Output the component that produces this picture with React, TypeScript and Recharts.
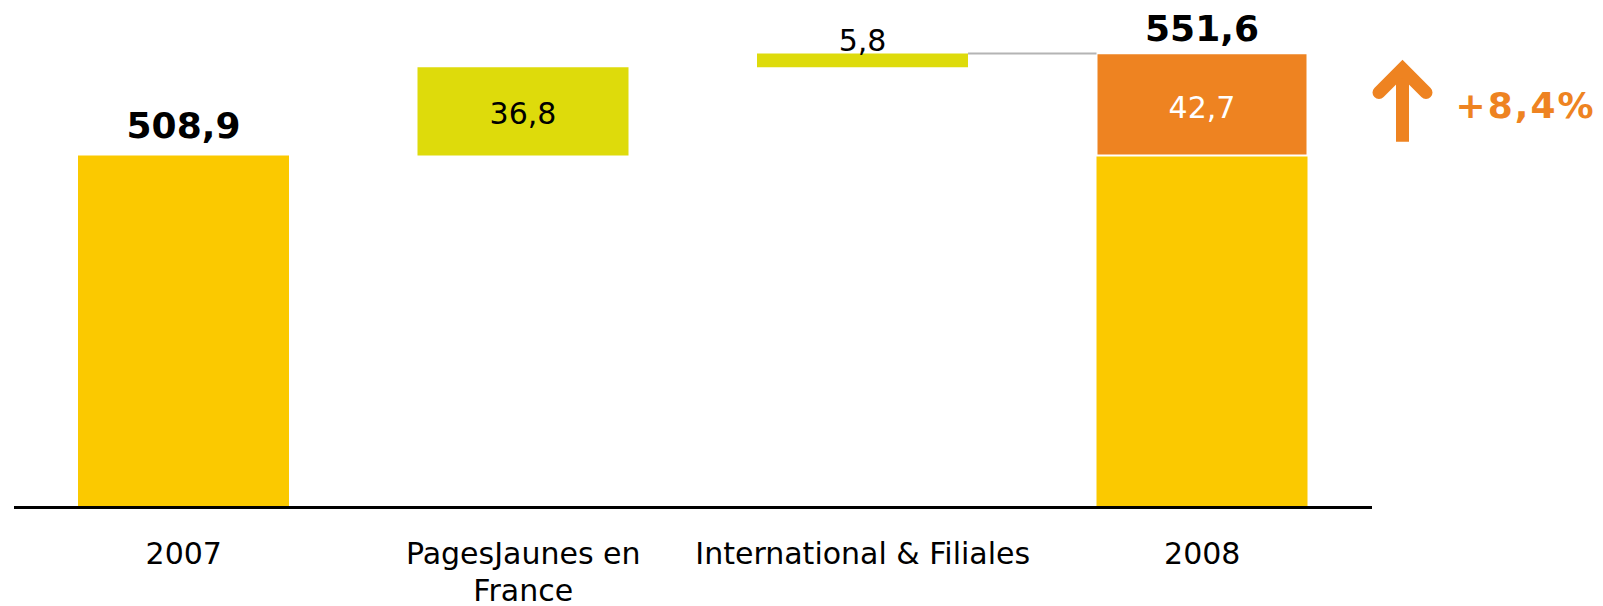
import React from 'react';
import { BarChart, Bar, XAxis, YAxis, LabelList, Cell } from 'recharts';

const categories = ['2007', 'PagesJaunes en France', 'International & Filiales', '2008'];
const tickLines = [['2007'], ['PagesJaunes en', 'France'], ['International & Filiales'], ['2008']];
const openingRevenue = 508.9;
const contributions = [36.8, 5.8];
const closingRevenue = 551.6;
const growthLabel = '+8,4%';

const YELLOW = '#FBC900';
const LIME = '#DEDB0B';
const ORANGE = '#EE8321';
const FONT = '"DejaVu Sans", Verdana, sans-serif';

const CHART_W = 1595;
const CHART_H = 598;
const MARGIN = { top: 10, right: 231, bottom: 0, left: 6 };
const BAR_SIZE = 211;
const BAND = (CHART_W - MARGIN.left - MARGIN.right) / categories.length;

// waterfall rows: invisible base + opening/closing level + change
const rows = (() => {
    const out: any[] = [{ name: categories[0], base: 0, level: openingRevenue, change: 0, total: openingRevenue }];
    let running = openingRevenue;
    contributions.forEach((c, i) => {
        out.push({ name: categories[i + 1], base: running, level: 0, change: c });
        running += c;
    });
    out.push({
        name: categories[categories.length - 1],
        base: 0,
        level: openingRevenue,
        change: Math.round((closingRevenue - openingRevenue) * 10) / 10,
        total: closingRevenue,
    });
    return out;
})();

const fmt = (v: number) => v.toFixed(1).replace('.', ',');

const box = (props: any) => {
    const vb = props.viewBox ?? props;
    return { x: Number(vb.x), y: Number(vb.y), width: Number(vb.width), height: Number(vb.height) };
};

// labels are looked up by category name (LabelList dataKey="name")
const renderOpening = (props: any) => {
    const i = categories.indexOf(props.value);
    if (i !== 0) return null;
    const { x, y, width } = box(props);
    return (
        <text x={x + width / 2} y={y - 18} textAnchor="middle" fontFamily={FONT} fontSize={36} fontWeight="bold" fill="#000">
            {fmt(rows[0].total)}
        </text>
    );
};

const renderChange = (props: any) => {
    const idx = categories.indexOf(props.value);
    const row = rows[idx];
    if (!row || !row.change || idx <= 0) return null;
    const { x, y, width, height } = box(props);
    const cx = x + width / 2;
    if (idx === rows.length - 1) {
        return (
            <g>
                <text x={cx} y={y - 12} textAnchor="middle" fontFamily={FONT} fontSize={36} fontWeight="bold" fill="#000">
                    {fmt(row.total)}
                </text>
                <text x={cx} y={y + height / 2 + 14} textAnchor="middle" fontFamily={FONT} fontSize={30} fill="#fff">
                    {fmt(row.change)}
                </text>
            </g>
        );
    }
    if (height > 40) {
        return (
            <text x={cx} y={y + height / 2 + 13} textAnchor="middle" fontFamily={FONT} fontSize={30} fill="#000">
                {fmt(row.change)}
            </text>
        );
    }
    // small step: label on top plus connector to the closing bar
    const gap = BAND - BAR_SIZE;
    return (
        <g>
            <line x1={x + width} x2={x + width + gap} y1={y} y2={y} stroke="#b4b4b4" strokeWidth={2} />
            <text x={cx} y={y - 2} textAnchor="middle" fontFamily={FONT} fontSize={30} fill="#000">
                {fmt(row.change)}
            </text>
        </g>
    );
};

const CategoryTick = (props: any) => {
    const { x, y, payload } = props;
    const i = categories.indexOf(payload.value);
    const lines = tickLines[i] ?? [payload.value];
    return (
        <text x={x} y={y + 56} textAnchor="middle" fontFamily={FONT} fontSize={30} fill="#000">
            {lines.map((l, k) => (
                <tspan key={k} x={x} dy={k === 0 ? 0 : 37}>{l}</tspan>
            ))}
        </text>
    );
};

export default function App() {
    return (
        <div style={{ position: 'relative', width: CHART_W, height: CHART_H }}>
            <BarChart width={CHART_W} height={CHART_H} data={rows} margin={MARGIN} barSize={BAR_SIZE}>
                <XAxis
                    dataKey="name"
                    axisLine={{ stroke: '#000', strokeWidth: 3 }}
                    tickLine={false}
                    tickSize={0}
                    tickMargin={0}
                    height={98.5}
                    interval={0}
                    tick={<CategoryTick />}
                />
                <YAxis hide domain={[362, 566.3]} allowDataOverflow />
                <Bar dataKey="base" stackId="w" fill="transparent" isAnimationActive={false} />
                <Bar dataKey="level" stackId="w" fill={YELLOW} isAnimationActive={false}>
                    <LabelList dataKey="name" content={renderOpening} />
                </Bar>
                <Bar dataKey="change" stackId="w" isAnimationActive={false}>
                    {rows.map((r, i) =>
                        i === rows.length - 1
                            ? <Cell key={i} fill={ORANGE} stroke="#fff" strokeWidth={2} />
                            : <Cell key={i} fill={LIME} />
                    )}
                    <LabelList dataKey="name" content={renderChange} />
                </Bar>
            </BarChart>
            <svg width={CHART_W} height={CHART_H} style={{ position: 'absolute', left: 0, top: 0, pointerEvents: 'none' }}>
                <line x1={1394.5} y1={133.7} x2={1394.5} y2={66} stroke={ORANGE} strokeWidth={13} />
                <polyline
                    points="1371,84.5 1394.5,61 1418,84.5"
                    fill="none"
                    stroke={ORANGE}
                    strokeWidth={13}
                    strokeLinecap="round"
                    strokeLinejoin="miter"
                />
                <text x={1447.6} y={110} fontFamily={FONT} fontSize={36} fontWeight="bold" letterSpacing={2} fill={ORANGE}>
                    {growthLabel}
                </text>
            </svg>
        </div>
    );
}
